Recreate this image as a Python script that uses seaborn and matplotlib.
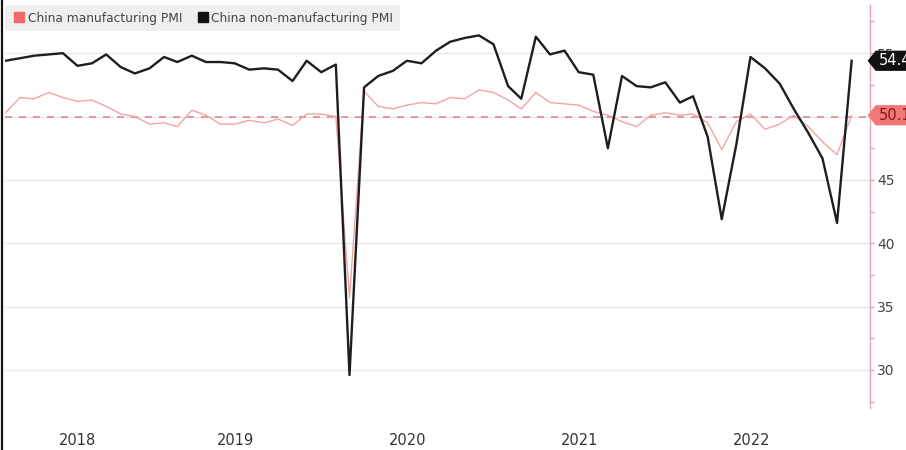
import numpy as np
import pandas as pd
import matplotlib
matplotlib.use("Agg")
import matplotlib.pyplot as plt
import seaborn as sns
from matplotlib.lines import Line2D
from matplotlib.path import Path
from matplotlib.ticker import MultipleLocator

# ---------------- data (monthly, Feb 2018 -> Jan 2023) ----------------
start_month = "2018-02-01"
mfg = [50.3, 51.5, 51.4, 51.9, 51.5, 51.2, 51.3, 50.8, 50.2, 50.0, 49.4,
       49.5, 49.2, 50.5, 50.1, 49.4, 49.4, 49.7, 49.5, 49.8, 49.3, 50.2, 50.2,
       50.0, 35.7, 52.0, 50.8, 50.6, 50.9, 51.1, 51.0, 51.5, 51.4, 52.1, 51.9,
       51.3, 50.6, 51.9, 51.1, 51.0, 50.9, 50.4, 50.1, 49.6, 49.2, 50.1, 50.3,
       50.1, 50.2, 49.5, 47.4, 49.6, 50.2, 49.0, 49.4, 50.1, 49.2, 48.0, 47.0,
       50.1]
nonmfg = [54.4, 54.6, 54.8, 54.9, 55.0, 54.0, 54.2, 54.9, 53.9, 53.4, 53.8,
          54.7, 54.3, 54.8, 54.3, 54.3, 54.2, 53.7, 53.8, 53.7, 52.8, 54.4, 53.5,
          54.1, 29.6, 52.3, 53.2, 53.6, 54.4, 54.2, 55.2, 55.9, 56.2, 56.4, 55.7,
          52.4, 51.4, 56.3, 54.9, 55.2, 53.5, 53.3, 47.5, 53.2, 52.4, 52.3, 52.7,
          51.1, 51.6, 48.4, 41.9, 47.8, 54.7, 53.8, 52.6, 50.6, 48.7, 46.7, 41.6,
          54.4]
series_names = ["China manufacturing PMI", "China non-manufacturing PMI"]
year_labels = ["2018", "2019", "2020", "2021", "2022"]
ref_level = 50

dates = pd.date_range(start_month, periods=len(mfg), freq="MS") + pd.offsets.MonthEnd(0)
df = pd.DataFrame({"date": dates, "mfg": mfg, "nonmfg": nonmfg})

# ---------------- figure ----------------
W, H = 906, 450
fig = plt.figure(figsize=(W / 100, H / 100), dpi=100)
fig.patch.set_facecolor("white")
ax = fig.add_axes([5 / W, 1 - 408 / H, 865 / W, 403 / H])
ax.set_facecolor("white")

ax.grid(axis="y", color="#e6e6e6", lw=0.9, zorder=0)
ax.grid(axis="x", visible=False)
ax.set_axisbelow(True)

sns.lineplot(data=df, x="date", y="mfg", ax=ax, color="#f3a3a3", lw=1.0, zorder=3)
sns.lineplot(data=df, x="date", y="nonmfg", ax=ax, color="#1e1e1e", lw=1.7, zorder=4)
ax.axhline(ref_level, color="#e38a8a", lw=1.2, ls=(0, (4.2, 4.2)), zorder=2)

xmin = pd.Timestamp("2018-02-27")
xmax = xmin + pd.Timedelta(days=1838)
ax.set_xlim(xmin, xmax)
ax.set_ylim(27.0, 58.8)

# year labels centred in visible part of each year
ticks = []
for lab in year_labels:
    y0 = max(pd.Timestamp(f"{lab}-01-01"), xmin)
    y1 = pd.Timestamp(f"{int(lab) + 1}-01-01")
    ticks.append(y0 + (y1 - y0) / 2)
ax.set_xticks(ticks)
ax.set_xticklabels(year_labels)
ax.tick_params(axis="x", length=0, pad=18, labelsize=10.5, labelcolor="#333333")

ax.yaxis.tick_right()
ax.yaxis.set_major_locator(MultipleLocator(5))
ax.yaxis.set_minor_locator(MultipleLocator(2.5))
ax.tick_params(axis="y", which="both", length=3, color="#e7a2ac", width=1,
               labelsize=10, labelcolor="#444444", pad=2)
ax.set_xlabel("")
ax.set_ylabel("")
for s in ["left", "top", "bottom"]:
    ax.spines[s].set_visible(False)
ax.spines["right"].set_color("#e7a2ac")
ax.spines["right"].set_linewidth(1)

# legend
handles = [Line2D([], [], marker="s", ls="none", color="#f06a6a", markersize=7),
           Line2D([], [], marker="s", ls="none", color="#111111", markersize=7)]
leg = ax.legend(handles, series_names, loc="upper left", bbox_to_anchor=(0, 1),
                borderaxespad=0, ncol=2, frameon=True, fancybox=False,
                facecolor="#efefef", edgecolor="none", framealpha=1,
                fontsize=8.8, handlelength=1.2, handletextpad=0.1,
                columnspacing=1.1, borderpad=0.55)
for t in leg.get_texts():
    t.set_color("#444444")
leg.set_zorder(6)


# last-value tags
def tag_box(x0, y0, width, height, mutation_size):
    pad = 0.18 * mutation_size
    x0 -= pad
    y0 -= pad
    width += 2 * pad
    height += 2 * pad
    tip = height * 0.4
    verts = [(x0, y0), (x0 + width, y0), (x0 + width, y0 + height),
             (x0, y0 + height), (x0 - tip, y0 + height / 2), (x0, y0)]
    return Path(verts, closed=True)


def tag(val, fc, tc):
    ax.annotate(f"{val:.1f}", xy=(1, val), xycoords=ax.get_yaxis_transform(),
                xytext=(6, 0), textcoords="offset points", ha="left", va="center",
                fontsize=10.5, color=tc,
                bbox=dict(boxstyle=tag_box, fc=fc, ec="none"),
                zorder=10, annotation_clip=False)


tag(nonmfg[-1], "#111111", "white")
tag(mfg[-1], "#f27777", "#8e1515")

# left image border
fig.add_artist(Line2D([0.0025, 0.0025], [0, 1], transform=fig.transFigure,
                      color="#111111", lw=1.6))

fig.savefig("out.png", dpi=100)
